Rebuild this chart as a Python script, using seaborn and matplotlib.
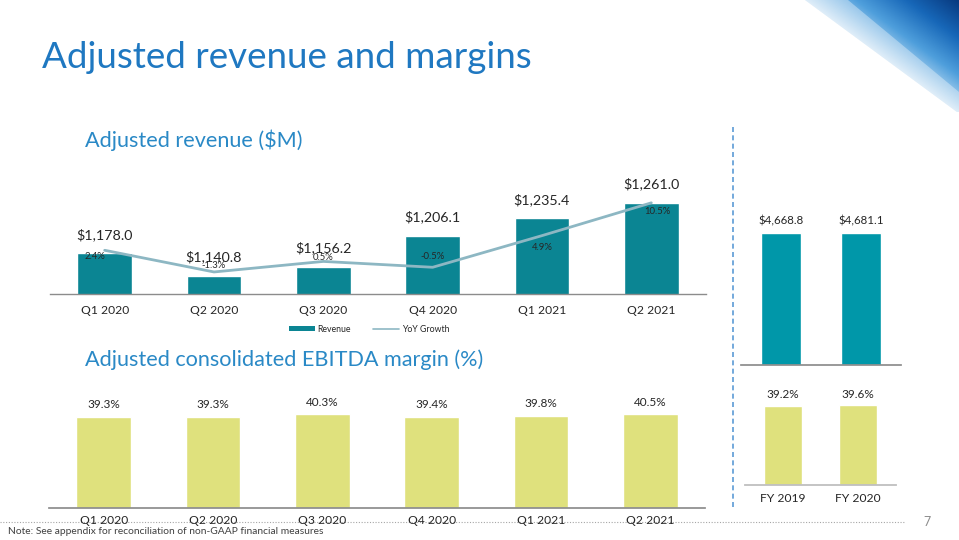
import numpy as np
import pandas as pd
import matplotlib
matplotlib.use("Agg")
import matplotlib.pyplot as plt
import seaborn as sns
from matplotlib.lines import Line2D
from matplotlib.patches import Patch, Polygon
from matplotlib.colors import LinearSegmentedColormap

# ---------------- data ----------------
quarters = ["Q1 2020", "Q2 2020", "Q3 2020", "Q4 2020", "Q1 2021", "Q2 2021"]
revenue = [1178.0, 1140.8, 1156.2, 1206.1, 1235.4, 1261.0]
yoy_growth = [2.4, -1.3, 0.5, -0.5, 4.9, 10.5]
ebitda_margin = [39.3, 39.3, 40.3, 39.4, 39.8, 40.5]
years = ["FY 2019", "FY 2020"]
fy_revenue = [4668.8, 4681.1]
fy_margin = [39.2, 39.6]

# label offsets (pixels, +down) for the growth labels
growth_label_offsets = [(-10, 6), (0, -6), (0, -4), (0, -11), (0, 12), (6, 9)]

# ---------------- style ----------------
sns.set_theme(style="white")
plt.rcParams["font.family"] = ["Lato", "DejaVu Sans"]

W, H = 959, 540
fig = plt.figure(figsize=(W / 100, H / 100), dpi=100)
fig.patch.set_facecolor("white")


def box(x0, y0, x1, y1):
    return [x0 / W, 1 - y1 / H, (x1 - x0) / W, (y1 - y0) / H]


PX = 0.72  # points per pixel
TEAL = "#0b8593"
TEAL_FY = "#0097a9"
YELLOW = "#dfe17d"
LINE = "#8db7c3"
TXT = "#262626"
BLUE = "#1f78c1"
SUB = "#2a89c6"

# ---------------- titles ----------------
fig.text(42 / W, 1 - 57 / H, "Adjusted revenue and margins", fontsize=26.5,
         color=BLUE, va="center", ha="left")
fig.text(85 / W, 1 - 140 / H, "Adjusted revenue ($M)", fontsize=15.6,
         color=SUB, va="center", ha="left")
fig.text(85 / W, 1 - 360 / H, "Adjusted consolidated EBITDA margin (%)", fontsize=15.6,
         color=SUB, va="center", ha="left")

# ---------------- revenue quarterly ----------------
ax1 = fig.add_axes(box(50, 170, 706, 294))
rev_df = pd.DataFrame({"quarter": quarters, "revenue": revenue})
sns.barplot(data=rev_df, x="quarter", y="revenue", ax=ax1, color=TEAL,
            saturation=1, width=0.5)
ax1.set_ylim(1111, 1315)
ax1.set_xlim(-0.5, len(quarters) - 0.5)
for i, v in enumerate(revenue):
    ax1.annotate(f"${v:,.1f}", (i, v), xytext=(0, 19 * PX), textcoords="offset points",
                 ha="center", va="center", fontsize=10.3, color=TXT)
ax2 = ax1.twinx()
sns.lineplot(x=np.arange(len(quarters)), y=yoy_growth, ax=ax2, color=LINE, linewidth=2)
ax2.set_ylim(-5.06, 16.1)
for i, (g, off) in enumerate(zip(yoy_growth, growth_label_offsets)):
    ax2.annotate(f"{g:.1f}%", (i, g), xytext=(off[0] * PX, -off[1] * PX),
                 textcoords="offset points", ha="center", va="center",
                 fontsize=6.8, color=TXT)
for a in (ax1, ax2):
    a.set_xlabel("")
    a.set_ylabel("")
    a.set_yticks([])
    for s in ("top", "left", "right"):
        a.spines[s].set_visible(False)
    a.set_facecolor("none")
ax2.spines["bottom"].set_visible(False)
ax1.spines["bottom"].set_color("#8c8c8c")
ax1.spines["bottom"].set_linewidth(1)
ax1.tick_params(axis="x", length=0, pad=8, labelsize=8.7, labelcolor=TXT)

handles = [Patch(facecolor=TEAL, edgecolor="none"), Line2D([], [], color=LINE, linewidth=1.2)]
fig.legend(handles, ["Revenue", "YoY Growth"], loc="center",
           bbox_to_anchor=(369 / W, 1 - 329 / H), ncol=2, frameon=False,
           fontsize=6.3, handlelength=3, handleheight=0.6, columnspacing=2.5,
           handletextpad=0.3, labelcolor=TXT)

# ---------------- EBITDA quarterly ----------------
ax3 = fig.add_axes(box(49, 385, 705, 508))
eb_df = pd.DataFrame({"quarter": quarters, "margin": ebitda_margin})
sns.barplot(data=eb_df, x="quarter", y="margin", ax=ax3, color=YELLOW,
            saturation=1, width=0.5)
ax3.set_ylim(0, 53)
ax3.set_xlim(-0.5, len(quarters) - 0.5)
for i, v in enumerate(ebitda_margin):
    ax3.annotate(f"{v:.1f}%", (i, v), xytext=(0, 12 * PX), textcoords="offset points",
                 ha="center", va="center", fontsize=8.5, color=TXT)
ax3.set_xlabel("")
ax3.set_ylabel("")
ax3.set_yticks([])
for s in ("top", "left", "right"):
    ax3.spines[s].set_visible(False)
ax3.spines["bottom"].set_color("#8c8c8c")
ax3.tick_params(axis="x", length=0, pad=5, labelsize=8.7, labelcolor=TXT)
ax3.set_facecolor("none")

# ---------------- FY revenue ----------------
ax4 = fig.add_axes(box(741, 200, 901, 365))
fy_df = pd.DataFrame({"year": years, "revenue": fy_revenue})
sns.barplot(data=fy_df, x="year", y="revenue", ax=ax4, color=TEAL_FY,
            saturation=1, width=0.5)
ax4.set_ylim(0, 5837)
ax4.set_xlim(-0.5, len(years) - 0.5)
for i, v in enumerate(fy_revenue):
    ax4.annotate(f"${v:,.1f}", (i, v), xytext=(0, 12 * PX), textcoords="offset points",
                 ha="center", va="center", fontsize=8.3, color=TXT)
ax4.set_xlabel("")
ax4.set_ylabel("")
ax4.set_yticks([])
ax4.set_xticks([])
for s in ("top", "left", "right"):
    ax4.spines[s].set_visible(False)
ax4.spines["bottom"].set_color("#8c8c8c")
ax4.set_facecolor("none")

# ---------------- FY margin ----------------
ax5 = fig.add_axes(box(745, 385, 896, 485))
fym_df = pd.DataFrame({"year": years, "margin": fy_margin})
sns.barplot(data=fym_df, x="year", y="margin", ax=ax5, color=YELLOW,
            saturation=1, width=0.5)
ax5.set_ylim(0, 49.5)
ax5.set_xlim(-0.5, len(years) - 0.5)
for i, v in enumerate(fy_margin):
    ax5.annotate(f"{v:.1f}%", (i, v), xytext=(0, 11 * PX), textcoords="offset points",
                 ha="center", va="center", fontsize=8.5, color=TXT)
ax5.set_xlabel("")
ax5.set_ylabel("")
ax5.set_yticks([])
for s in ("top", "left", "right"):
    ax5.spines[s].set_visible(False)
ax5.spines["bottom"].set_color("#bfbfbf")
ax5.spines["bottom"].set_linewidth(1.3)
ax5.tick_params(axis="x", length=0, pad=6, labelsize=8.7, labelcolor=TXT)
ax5.set_facecolor("none")

# ---------------- separators / footer ----------------
fig.add_artist(Line2D([733 / W, 733 / W], [1 - 127 / H, 1 - 510 / H], color="#5b9bd5",
                      linewidth=1.2, linestyle=(0, (3, 2))))
fig.add_artist(Line2D([0, 905 / W], [1 - 522 / H, 1 - 522 / H], color="#a6a6a6",
                      linewidth=0.8, linestyle=(0, (1, 1.5)), zorder=0))
fig.text(927 / W, 1 - 522 / H, "7", fontsize=9, color="#8c8c8c", ha="center", va="center")
fig.text(8 / W, 1 - 531 / H, "Note: See appendix for reconciliation of non-GAAP financial measures",
         fontsize=7.4, color="#404040", ha="left", va="center")

# ---------------- decorative corner ----------------
axd = fig.add_axes(box(790, 0, 959, 112))
axd.set_xlim(790, 959)
axd.set_ylim(112, 0)
axd.axis("off")
xx, yy = np.meshgrid(np.linspace(790, 959, 170), np.linspace(0, 112, 113))
d = ((xx - 805) * 112 - yy * 152) / np.hypot(112, 152)
Z = np.clip(d / d.max(), 0, 1)
cmap = LinearSegmentedColormap.from_list("deco", ["#cfe5f6", "#4f9fdc", "#1767b8", "#083a80"])
im = axd.imshow(Z, extent=(790, 959, 112, 0), cmap=cmap, aspect="auto", vmin=0, vmax=1)
clip = Polygon([(805, 0), (959, 0), (959, 112), (957, 112)], closed=True,
               transform=axd.transData)
im.set_clip_path(clip)
axd.add_patch(Polygon([(805, 0), (848, 0), (959, 92), (959, 112), (957, 112)], closed=True,
                      facecolor="white", alpha=0.35, edgecolor="none"))

fig.savefig("out.png", dpi=100, facecolor="white")
